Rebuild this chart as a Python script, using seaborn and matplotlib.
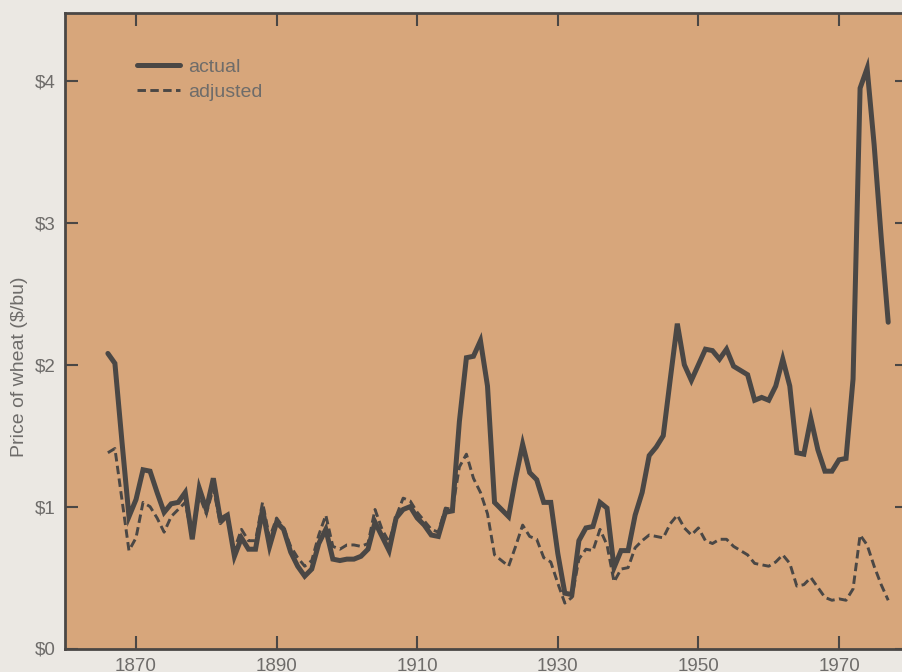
import pandas as pd
import matplotlib.pyplot as plt
import seaborn as sns

sns.set_style('ticks')
plt.rcParams['font.family'] = ['Liberation Sans', 'DejaVu Sans']

years = list(range(1866, 1978))

# season average price, dollars per bushel
actual = [2.08, 2.01, 1.46, 0.93, 1.05, 1.26, 1.25, 1.10, 0.96, 1.02,
          1.03, 1.10, 0.77, 1.13, 0.98, 1.20, 0.91, 0.94, 0.65, 0.78,
          0.70, 0.70, 0.98, 0.72, 0.89, 0.84, 0.68, 0.58, 0.51, 0.56,
          0.74, 0.84, 0.63, 0.62, 0.63, 0.63, 0.65, 0.70, 0.89, 0.79,
          0.69, 0.92, 0.98, 1.00, 0.92, 0.87, 0.80, 0.79, 0.96, 0.97,
          1.60, 2.05, 2.06, 2.17, 1.85, 1.03, 0.98, 0.93, 1.20, 1.44,
          1.24, 1.19, 1.03, 1.03, 0.67, 0.39, 0.38, 0.76, 0.85, 0.86,
          1.03, 0.99, 0.57, 0.69, 0.69, 0.94, 1.10, 1.36, 1.42, 1.50,
          1.90, 2.29, 2.00, 1.89, 2.00, 2.11, 2.10, 2.04, 2.11, 1.99,
          1.96, 1.93, 1.75, 1.77, 1.75, 1.85, 2.04, 1.85, 1.38, 1.37,
          1.62, 1.40, 1.25, 1.25, 1.33, 1.34, 1.90, 3.95, 4.09, 3.55,
          2.90, 2.30]

adjusted = [1.38, 1.41, 1.05, 0.69, 0.78, 1.03, 1.00, 0.92, 0.82, 0.93,
            0.98, 1.03, 0.78, 1.08, 0.95, 1.13, 0.88, 0.93, 0.70, 0.84,
            0.76, 0.76, 1.03, 0.78, 0.92, 0.85, 0.72, 0.64, 0.58, 0.62,
            0.80, 0.94, 0.72, 0.70, 0.73, 0.73, 0.72, 0.74, 0.98, 0.84,
            0.75, 0.93, 1.06, 1.04, 0.96, 0.90, 0.84, 0.82, 0.99, 0.98,
            1.28, 1.37, 1.20, 1.10, 0.95, 0.66, 0.62, 0.58, 0.72, 0.87,
            0.79, 0.77, 0.64, 0.61, 0.46, 0.32, 0.36, 0.63, 0.70, 0.69,
            0.84, 0.73, 0.47, 0.56, 0.57, 0.71, 0.76, 0.80, 0.79, 0.78,
            0.88, 0.94, 0.85, 0.80, 0.85, 0.76, 0.74, 0.77, 0.77, 0.72,
            0.69, 0.66, 0.60, 0.59, 0.58, 0.61, 0.66, 0.60, 0.44, 0.45,
            0.50, 0.43, 0.36, 0.34, 0.35, 0.34, 0.42, 0.80, 0.73, 0.58,
            0.45, 0.34]

xticks = [1870, 1890, 1910, 1930, 1950, 1970]
yticks = [0, 1, 2, 3, 4]
ytick_labels = ['$0', '$1', '$2', '$3', '$4']

df = pd.DataFrame({'year': years, 'actual': actual, 'adjusted': adjusted})

ink = '#4a4745'
txt = '#6e6c6a'

fig = plt.figure(figsize=(9.02, 6.72), dpi=100, facecolor='#ebe8e3')
ax = fig.add_axes([65 / 902, 1 - 648.5 / 672, (908 - 65) / 902, (648.5 - 13) / 672])
ax.set_facecolor('#d7a67b')

sns.lineplot(data=df, x='year', y='actual', ax=ax, color=ink, lw=3.6,
             label='actual', solid_joinstyle='miter')
sns.lineplot(data=df, x='year', y='adjusted', ax=ax, color=ink, lw=2.1,
             dashes=False, linestyle=(0, (2.9, 1.5)), label='adjusted')

ax.set_xlim(1870 - 71 / 7.03, 1870 + (908 - 136) / 7.03)
ax.set_ylim(0, 4.48)
ax.set_xticks(xticks)
ax.set_xticklabels([str(x) for x in xticks])
ax.set_yticks(yticks)
ax.set_yticklabels(ytick_labels)
ax.tick_params(direction='in', length=9.5, width=1.5, color=ink,
               labelcolor=txt, labelsize=13.5, pad=7,
               top=True, right=True)
for s in ax.spines.values():
    s.set_color(ink)
    s.set_linewidth(2.0)

ax.set_xlabel('')
ax.set_ylabel('Price of wheat ($/bu)', color=txt, fontsize=14)
ax.yaxis.set_label_coords(-0.044, 0.443)

leg = ax.legend(loc='upper left', bbox_to_anchor=(0.0647, 0.956), frameon=False,
                fontsize=14, handlelength=2.2, handletextpad=0.41,
                labelspacing=0.39)
for t in leg.get_texts():
    t.set_color(txt)

plt.savefig('out.png', dpi=100, facecolor=fig.get_facecolor())
